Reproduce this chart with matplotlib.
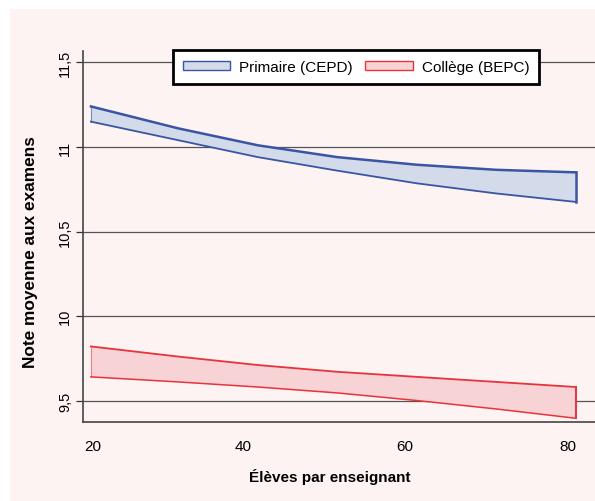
import matplotlib
matplotlib.use("Agg")
import matplotlib.pyplot as plt
import matplotlib.transforms as mtransforms
from matplotlib.patches import Patch, Rectangle

plt.rcParams['font.family'] = ['Liberation Sans', 'DejaVu Sans']

# data
eleves = [19, 30, 40, 50, 60, 70, 80]
primaire_haut = [11.24, 11.11, 11.01, 10.94, 10.895, 10.865, 10.85]
primaire_bas = [11.15, 11.04, 10.94, 10.86, 10.785, 10.725, 10.675]
college_haut = [9.82, 9.76, 9.71, 9.67, 9.64, 9.61, 9.58]
college_bas = [9.64, 9.61, 9.58, 9.545, 9.50, 9.45, 9.395]

yticks = [9.5, 10, 10.5, 11, 11.5]
ytick_labels = ["9,5", "10", "10,5", "11", "11,5"]
xticks = [20, 40, 60, 80]

bg = "#fdf3f2"
blue_edge = "#3a55a4"
blue_fill = "#d3dae9"
red_edge = "#e8323c"
red_fill = "#f7d3d6"

fig = plt.figure(figsize=(5.95, 5.02), dpi=100)
fig.patch.set_facecolor("white")
fig.patches.append(Rectangle((10 / 595, 0), 1, 1 - 10 / 502, transform=fig.transFigure,
                             facecolor=bg, edgecolor="none", zorder=-10))

ax = fig.add_axes([83 / 595, 79 / 502, 1 - 83 / 595, 371 / 502])
ax.set_facecolor(bg)

ax.fill_between(eleves, primaire_bas, primaire_haut, facecolor=blue_fill, edgecolor="none", zorder=2)
ax.plot(eleves, primaire_haut, color=blue_edge, lw=1.8, zorder=3)
ax.plot(eleves, primaire_bas, color=blue_edge, lw=1.3, zorder=3)
ax.plot([eleves[0]] * 2, [primaire_bas[0], primaire_haut[0]], color=blue_edge, lw=0.8, alpha=0.6, zorder=3)
ax.plot([eleves[-1]] * 2, [primaire_bas[-1], primaire_haut[-1]], color=blue_edge, lw=1.8, zorder=3)

ax.fill_between(eleves, college_bas, college_haut, facecolor=red_fill, edgecolor="none", zorder=2)
ax.plot(eleves, college_haut, color=red_edge, lw=1.3, zorder=3)
ax.plot(eleves, college_bas, color=red_edge, lw=1.1, zorder=3)
ax.plot([eleves[0]] * 2, [college_bas[0], college_haut[0]], color=red_edge, lw=0.8, alpha=0.5, zorder=3)
ax.plot([eleves[-1]] * 2, [college_bas[-1], college_haut[-1]], color=red_edge, lw=1.4, zorder=3)

ax.set_xlim(18, 82.4)
ax.set_ylim(9.373, 11.568)

ax.set_yticks(yticks)
ax.set_yticklabels(ytick_labels, rotation=90, va="center", fontsize=10.5)
ax.yaxis.grid(True, color="#555555", lw=0.9, zorder=1)
ax.set_axisbelow(True)
ax.tick_params(axis="y", length=5, width=0.9, pad=3, color="#333333")

ax.set_xticks(xticks)
ax.set_xticklabels([str(v) for v in xticks], fontsize=11)
ax.set_xticks([20, 80], minor=True)
ax.tick_params(axis="x", which="major", length=0, pad=12)
ax.tick_params(axis="x", which="minor", length=5, width=0.9, pad=0, color="#333333")
# the labels sit a little left of their ticks in the original
for lab, dx in zip(ax.get_xticklabels(), [-6, -15, -12, -8]):
    lab.set_transform(lab.get_transform() + mtransforms.ScaledTranslation(dx / 100, 0, fig.dpi_scale_trans))

for s in ["top", "right"]:
    ax.spines[s].set_visible(False)
for s in ["left", "bottom"]:
    ax.spines[s].set_color("#444444")
    ax.spines[s].set_linewidth(1.2)

ax.set_ylabel("Note moyenne aux examens", fontsize=12.4, fontweight="bold")
ax.yaxis.set_label_coords(-0.088, 0.462)
ax.set_xlabel("Élèves par enseignant", fontsize=11, fontweight="bold")
ax.xaxis.set_label_coords(0.482, -0.123)

handles = [Patch(facecolor=blue_fill, edgecolor=blue_edge, label="Primaire (CEPD)"),
           Patch(facecolor=red_fill, edgecolor=red_edge, label="Collège (BEPC)")]
leg = ax.legend(handles=handles, ncol=2, loc="upper left", bbox_to_anchor=(173 / 595, 1 - 51 / 502),
                bbox_transform=fig.transFigure, fontsize=11, frameon=True, fancybox=False,
                handlelength=3.1, handleheight=0.6, columnspacing=0.8, borderpad=0.65,
                handletextpad=0.6, borderaxespad=0)
leg.get_frame().set_edgecolor("black")
leg.get_frame().set_linewidth(2)
leg.get_frame().set_facecolor("white")
leg.get_frame().set_alpha(1)

fig.savefig("out.png", dpi=100, facecolor=fig.get_facecolor())
